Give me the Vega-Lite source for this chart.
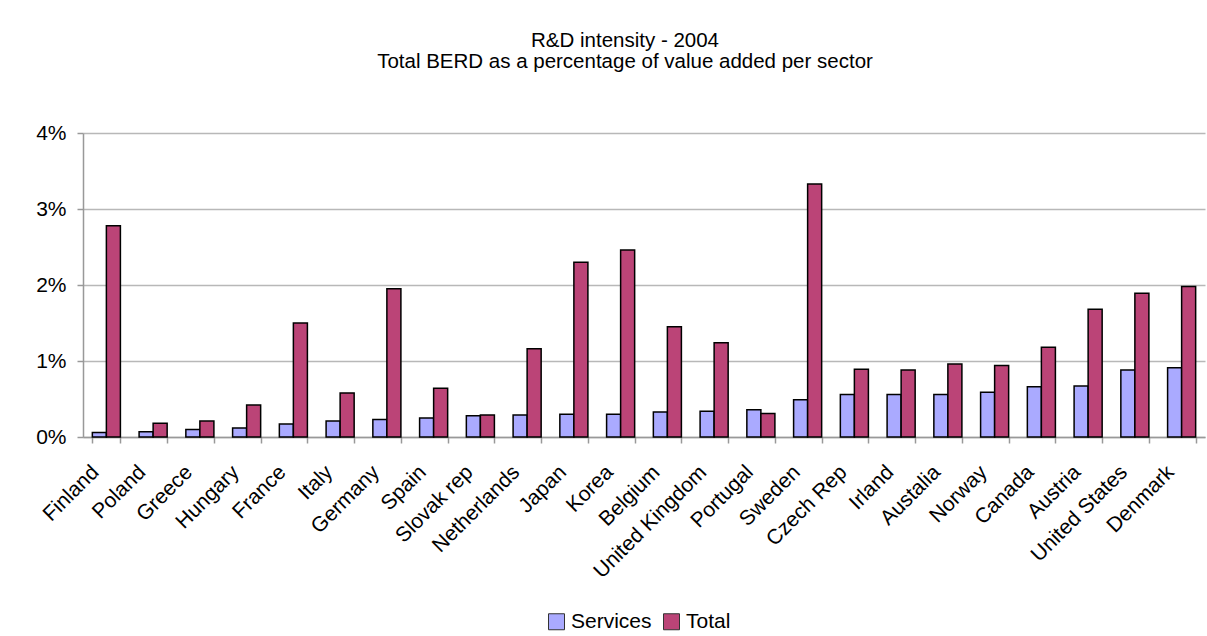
{
  "$schema": "https://vega.github.io/schema/vega-lite/v6.json",
  "width": 1122,
  "height": 304,
  "autosize": "none",
  "padding": {"left": 83, "top": 133, "right": 2, "bottom": 199},
  "background": "white",
  "config": {
    "font": "Liberation Sans",
    "view": {"stroke": null}
  },
  "title": {
    "text": ["R&D intensity - 2004", "Total BERD as a percentage of value added per sector"],
    "anchor": "middle",
    "frame": "group",
    "font": "Liberation Sans",
    "fontSize": 20.5,
    "fontWeight": "normal",
    "color": "black",
    "lineHeight": 21,
    "offset": 50,
    "dx": -19
  },
  "data": {
    "values": [
      {"country": "Finland", "sector": "Services", "value": 0.06},
      {"country": "Finland", "sector": "Total", "value": 2.78},
      {"country": "Poland", "sector": "Services", "value": 0.07},
      {"country": "Poland", "sector": "Total", "value": 0.18},
      {"country": "Greece", "sector": "Services", "value": 0.1},
      {"country": "Greece", "sector": "Total", "value": 0.21},
      {"country": "Hungary", "sector": "Services", "value": 0.12},
      {"country": "Hungary", "sector": "Total", "value": 0.42},
      {"country": "France", "sector": "Services", "value": 0.17},
      {"country": "France", "sector": "Total", "value": 1.5},
      {"country": "Italy", "sector": "Services", "value": 0.21},
      {"country": "Italy", "sector": "Total", "value": 0.58},
      {"country": "Germany", "sector": "Services", "value": 0.23},
      {"country": "Germany", "sector": "Total", "value": 1.95},
      {"country": "Spain", "sector": "Services", "value": 0.25},
      {"country": "Spain", "sector": "Total", "value": 0.64},
      {"country": "Slovak rep", "sector": "Services", "value": 0.28},
      {"country": "Slovak rep", "sector": "Total", "value": 0.29},
      {"country": "Netherlands", "sector": "Services", "value": 0.29},
      {"country": "Netherlands", "sector": "Total", "value": 1.16},
      {"country": "Japan", "sector": "Services", "value": 0.3},
      {"country": "Japan", "sector": "Total", "value": 2.3},
      {"country": "Korea", "sector": "Services", "value": 0.3},
      {"country": "Korea", "sector": "Total", "value": 2.46},
      {"country": "Belgium", "sector": "Services", "value": 0.33},
      {"country": "Belgium", "sector": "Total", "value": 1.45},
      {"country": "United Kingdom", "sector": "Services", "value": 0.34},
      {"country": "United Kingdom", "sector": "Total", "value": 1.24},
      {"country": "Portugal", "sector": "Services", "value": 0.36},
      {"country": "Portugal", "sector": "Total", "value": 0.31},
      {"country": "Sweden", "sector": "Services", "value": 0.49},
      {"country": "Sweden", "sector": "Total", "value": 3.33},
      {"country": "Czech Rep", "sector": "Services", "value": 0.56},
      {"country": "Czech Rep", "sector": "Total", "value": 0.89},
      {"country": "Irland", "sector": "Services", "value": 0.56},
      {"country": "Irland", "sector": "Total", "value": 0.88},
      {"country": "Austalia", "sector": "Services", "value": 0.56},
      {"country": "Austalia", "sector": "Total", "value": 0.96},
      {"country": "Norway", "sector": "Services", "value": 0.59},
      {"country": "Norway", "sector": "Total", "value": 0.94},
      {"country": "Canada", "sector": "Services", "value": 0.66},
      {"country": "Canada", "sector": "Total", "value": 1.18},
      {"country": "Austria", "sector": "Services", "value": 0.67},
      {"country": "Austria", "sector": "Total", "value": 1.68},
      {"country": "United States", "sector": "Services", "value": 0.88},
      {"country": "United States", "sector": "Total", "value": 1.89},
      {"country": "Denmark", "sector": "Services", "value": 0.91},
      {"country": "Denmark", "sector": "Total", "value": 1.98}
    ]
  },
  "mark": {"type": "bar", "stroke": "black", "strokeWidth": 1.5},
  "encoding": {
    "x": {
      "field": "country",
      "type": "nominal",
      "sort": null,
      "scale": {"paddingInner": 0.4, "paddingOuter": 0.2},
      "axis": {
        "title": null,
        "labelAngle": -45,
        "labelFontSize": 21,
        "labelColor": "black",
        "labelPadding": 18,
        "labelOffset": -19,
        "tickBand": "extent",
        "tickColor": "#999999",
        "tickSize": 6,
        "tickWidth": 1.5,
        "domainColor": "#999999",
        "domainWidth": 1.5,
        "grid": false
      }
    },
    "xOffset": {"field": "sector", "type": "nominal", "sort": ["Services", "Total"]},
    "y": {
      "field": "value",
      "type": "quantitative",
      "scale": {"domain": [0, 4]},
      "axis": {
        "title": null,
        "values": [0, 1, 2, 3, 4],
        "labelExpr": "datum.value + '%'",
        "labelFontSize": 21,
        "labelColor": "black",
        "labelPadding": 11,
        "tickColor": "#999999",
        "tickSize": 6,
        "tickWidth": 1.5,
        "domainColor": "#999999",
        "domainWidth": 1.5,
        "grid": true,
        "gridColor": "#b8b8b8",
        "gridWidth": 1.5
      }
    },
    "color": {
      "field": "sector",
      "type": "nominal",
      "scale": {"domain": ["Services", "Total"], "range": ["#aaaaff", "#bb4477"]},
      "legend": {
        "title": null,
        "orient": "none",
        "direction": "horizontal",
        "legendX": 463,
        "legendY": 478,
        "symbolType": "square",
        "symbolSize": 256,
        "symbolStrokeColor": "#333333",
        "symbolStrokeWidth": 1,
        "symbolOpacity": 1,
        "labelFontSize": 21,
        "labelColor": "black",
        "labelOffset": 4,
        "columnPadding": 9
      }
    }
  }
}
